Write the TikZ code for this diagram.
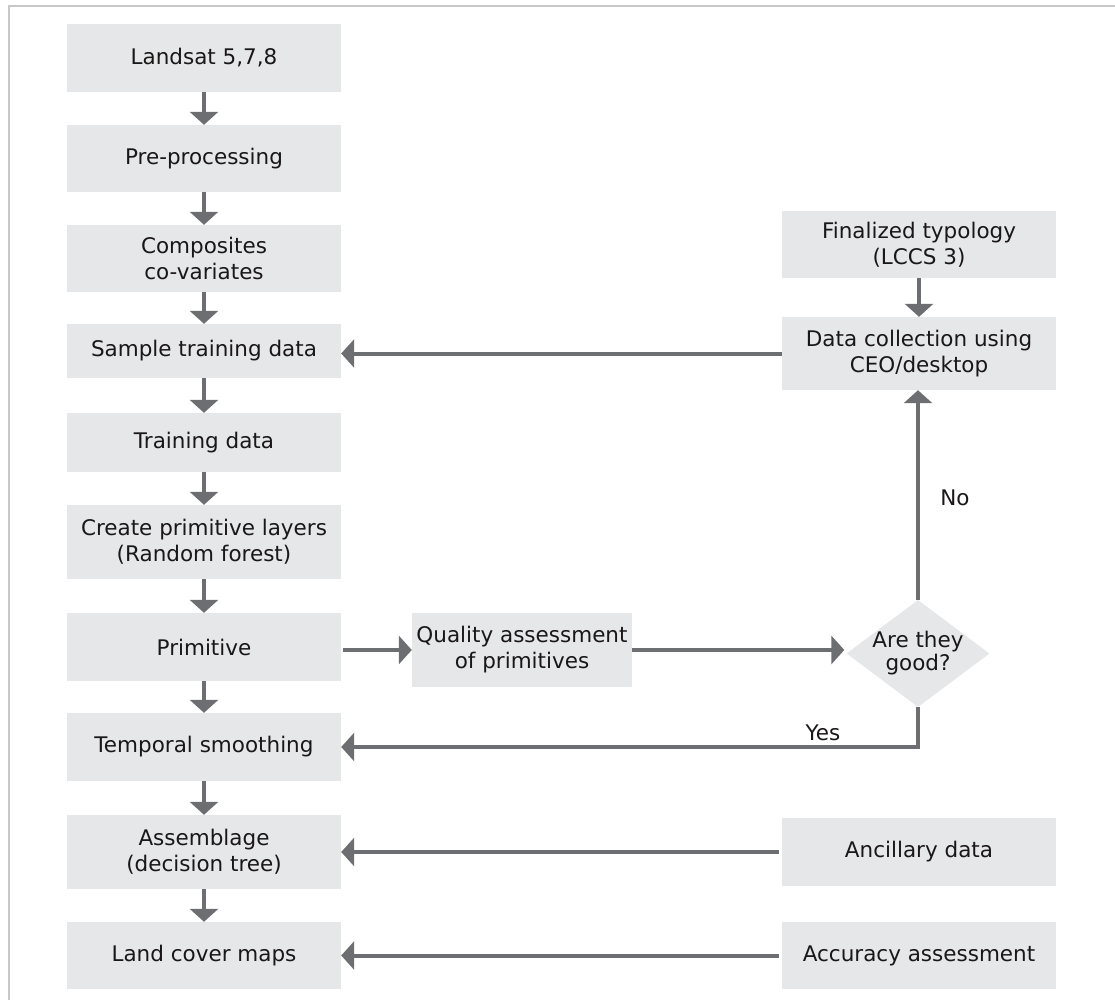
\documentclass[tikz,border=0pt]{standalone}
\usepackage{fontspec}
\setmainfont{DejaVu Sans}
\usetikzlibrary{arrows.meta,shapes.geometric}
\definecolor{boxfill}{HTML}{E6E7E8}
\definecolor{arrowgray}{HTML}{6D6E71}
\definecolor{txt}{HTML}{1A1718}
\definecolor{framegray}{HTML}{C8C8C8}
\begin{document}
\begin{tikzpicture}[x=1pt,y=-1pt,
  box/.style={fill=boxfill, text=txt, align=center, minimum width=274pt, inner sep=0pt, font=\fontsize{21.5}{26}\selectfont},
  lab/.style={text=txt, align=center, inner sep=0pt, font=\fontsize{21.5}{25}\selectfont},
  flow/.style={draw=arrowgray, line width=4pt, -{Triangle[width=28pt,length=13pt]}}]
\useasboundingbox (0,0) rectangle (1115,1000);
\draw[framegray, line width=2pt] (9,1000) -- (9,6.5) -- (1115,6.5);
% left column
\node[box, minimum height=68pt] (landsat) at (204,58) {Landsat 5,7,8};
\node[box, minimum height=67pt] (pre) at (204,158.5) {Pre-processing};
\node[box, minimum height=67pt] (comp) at (204,258.5) {Composites\\co-variates};
\node[box, minimum height=54pt] (sample) at (204,351) {Sample training data};
\node[box, minimum height=59pt] (train) at (204,442.5) {Training data};
\node[box, minimum height=74pt] (create) at (204,542) {Create primitive layers\\(Random forest)};
\node[box, minimum height=68pt] (prim) at (204,647) {Primitive};
\node[box, minimum height=68pt] (temporal) at (204,747) {Temporal smoothing};
\node[box, minimum height=74pt] (assem) at (204,852) {Assemblage\\(decision tree)};
\node[box, minimum height=67pt] (land) at (204,955.5) {Land cover maps};
% right column
\node[box, minimum height=67pt] (final) at (919,244.5) {Finalized typology\\(LCCS 3)};
\node[box, minimum height=73pt] (datacol) at (919,353.5) {Data collection using\\CEO/desktop};
\node[box, minimum height=68pt] (anc) at (919,852) {Ancillary data};
\node[box, minimum height=67pt] (acc) at (919,955.5) {Accuracy assessment};
% middle
\node[box, minimum width=220pt, minimum height=74pt] (qual) at (522,650) {Quality assessment\\of primitives};
\node[diamond, fill=boxfill, minimum width=143pt, minimum height=107pt, inner sep=0pt] (good) at (918,653.5) {};
\node[lab, font=\fontsize{21.5}{23}\selectfont] (goodtext) at (good.center) {Are they\\good?};
\node[lab] (yes) at (823,733) {Yes};
\node[lab] (no) at (955,498) {No};
% vertical flow
\draw[flow] (landsat) -- (pre);
\draw[flow] (pre) -- (comp);
\draw[flow] (comp) -- (sample);
\draw[flow] (sample) -- (train);
\draw[flow] (train) -- (create);
\draw[flow] (create) -- (prim);
\draw[flow] (prim) -- (temporal);
\draw[flow] (temporal) -- (assem);
\draw[flow] (assem) -- (land);
\draw[flow] (final) -- (datacol);
% horizontal flow
\draw[flow] (datacol.west) -- (datacol.west -| sample.east);
\draw[flow] ([xshift=2pt]prim.east |- qual.west) -- (qual.west);
\draw[flow, shorten >=2pt] (qual.east) -- (qual.east -| good.west);
\draw[flow] (good.south) |- (temporal.east);
\draw[flow] (good.north) -- (good.north |- datacol.south);
\draw[flow, shorten <=3pt] (anc.west) -- (anc.west -| assem.east);
\draw[flow, shorten <=3pt] (acc.west) -- (acc.west -| land.east);
\end{tikzpicture}
\end{document}
